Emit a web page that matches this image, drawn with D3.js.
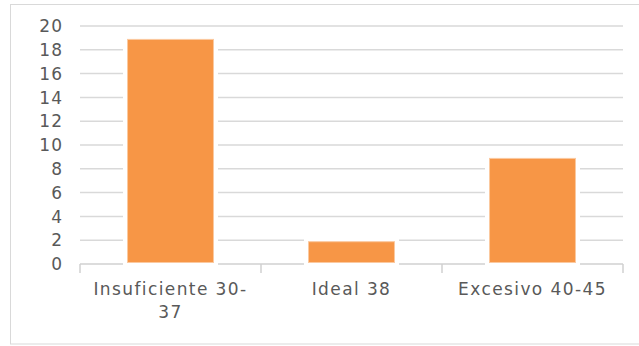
<!DOCTYPE html>
<html>
<head>
<meta charset="utf-8">
<script src="https://cdnjs.cloudflare.com/ajax/libs/d3/7.0.0/d3.min.js"></script>
<style>
  body { margin: 0; background: #fff; }
  text { font-family: "DejaVu Sans", sans-serif; fill: #595959; }
</style>
</head>
<body>
<script>
const categories = [["Insuficiente 30-", "37"], ["Ideal 38"], ["Excesivo 40-45"]];
const values = [19, 2, 9];
const yTicks = [0, 2, 4, 6, 8, 10, 12, 14, 16, 18, 20];

const width = 639, height = 346;
const plotLeft = 80, plotRight = 623, plotTop = 26, plotBottom = 264;

const svg = d3.select("body").append("svg")
  .attr("width", width)
  .attr("height", height);

// chart border
svg.append("rect")
  .attr("x", 10.5).attr("y", 4.5)
  .attr("width", 640).attr("height", 339.5)
  .attr("fill", "none")
  .attr("stroke", "#d9d9d9");

const x = d3.scaleBand()
  .domain(d3.range(categories.length))
  .range([plotLeft, plotRight])
  .paddingInner(0.525)
  .paddingOuter(0.2625);

const y = d3.scaleLinear().domain([0, 20]).range([plotBottom, plotTop]);

// gridlines
svg.append("g").selectAll("line")
  .data(yTicks.filter(d => d > 0))
  .enter().append("line")
  .attr("x1", plotLeft).attr("x2", plotRight)
  .attr("y1", d => y(d)).attr("y2", d => y(d))
  .attr("stroke", "#d9d9d9")
  .attr("stroke-width", 1.5);

// x axis line + ticks
svg.append("line")
  .attr("x1", plotLeft).attr("x2", plotRight)
  .attr("y1", plotBottom).attr("y2", plotBottom)
  .attr("stroke", "#d0d0d0").attr("stroke-width", 1.5);

const step = (plotRight - plotLeft) / categories.length;
svg.append("g").selectAll("line")
  .data(d3.range(categories.length + 1))
  .enter().append("line")
  .attr("x1", d => plotLeft + d * step).attr("x2", d => plotLeft + d * step)
  .attr("y1", plotBottom).attr("y2", plotBottom + 9)
  .attr("stroke", "#d0d0d0").attr("stroke-width", 1.5);

// y labels
svg.append("g").selectAll("text")
  .data(yTicks)
  .enter().append("text")
  .attr("x", plotLeft - 17)
  .attr("y", d => y(d))
  .attr("dy", "0.36em")
  .attr("text-anchor", "end")
  .attr("font-size", 17)
  .attr("letter-spacing", 1)
  .text(d => d);

// bars: white halo, then bar (inset slightly like the original)
const bars = svg.append("g").selectAll("g")
  .data(values)
  .enter().append("g");

bars.append("rect")
  .attr("x", (d, i) => x(i) - 4.5)
  .attr("width", x.bandwidth() + 9)
  .attr("y", d => y(d) - 3)
  .attr("height", d => plotBottom - y(d) + 4)
  .attr("fill", "#fff");

bars.append("rect")
  .attr("x", (d, i) => x(i))
  .attr("width", x.bandwidth())
  .attr("y", d => y(d) + 1.5)
  .attr("height", d => plotBottom - y(d) - 3)
  .attr("fill", "#f79646")
  .attr("stroke", "#fbc9a0")
  .attr("stroke-width", 1);

// x labels
const lbl = svg.append("g").selectAll("text")
  .data(categories)
  .enter().append("text")
  .attr("text-anchor", "middle")
  .attr("font-size", 17)
  .attr("letter-spacing", 1.4);

lbl.selectAll("tspan")
  .data((d, i) => d.map(t => ({ t, i })))
  .enter().append("tspan")
  .attr("x", d => x(d.i) + x.bandwidth() / 2)
  .attr("y", (d, j) => 295 + j * 23)
  .text(d => d.t);
</script>
</body>
</html>
